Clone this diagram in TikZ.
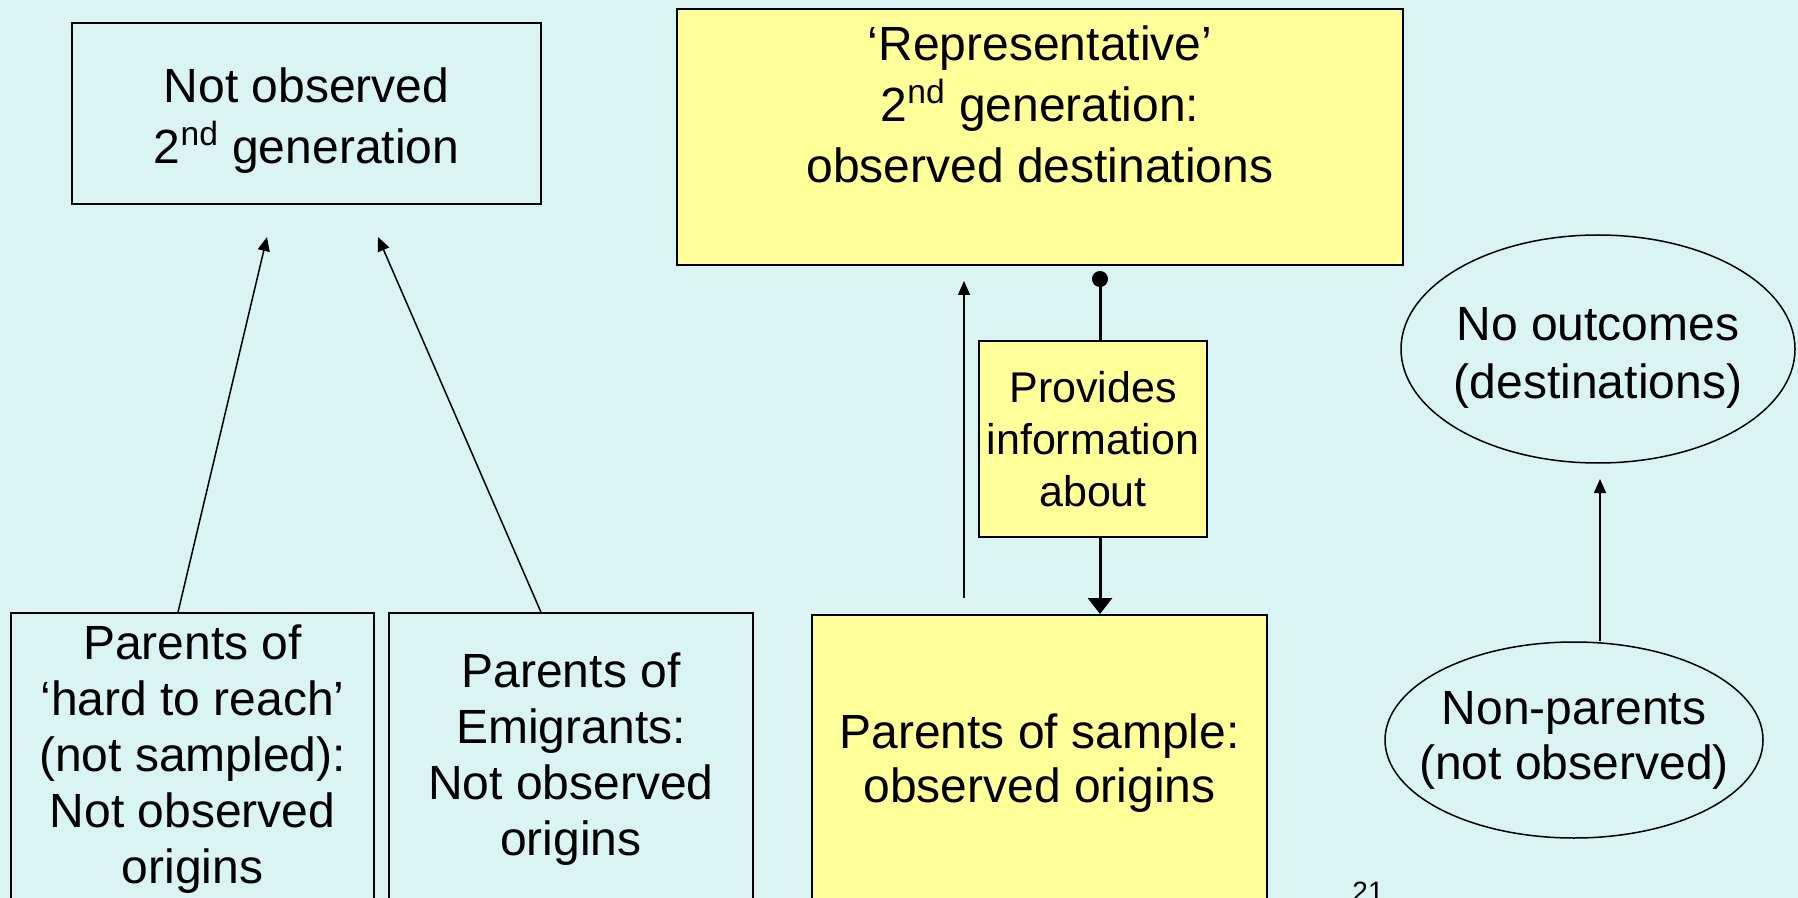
\documentclass[tikz,border=0pt]{standalone}
\usepackage{fontspec}
\setmainfont{Liberation Sans}
\usetikzlibrary{arrows.meta,shapes.geometric}
\definecolor{slbg}{RGB}{218,243,243}
\definecolor{slyellow}{RGB}{255,255,153}
\tikzstyle{thinarrow} = [line width=0.75pt,-{Triangle[length=7pt,width=6pt]}]
\tikzstyle{boldarrow} = [line width=1.5pt,-{Triangle[length=8pt,width=12pt]}]
\tikzstyle{plainbox} = [rectangle, draw=black, line width=0.75pt, align=center, inner sep=0pt]
\tikzstyle{yellowbox} = [plainbox, fill=slyellow, line width=1pt]
\tikzstyle{oval} = [ellipse, draw=black, line width=0.75pt, align=center, inner xsep=-14pt, inner ysep=-4pt]

\begin{document}
\begin{tikzpicture}[x=0.5pt, y=-0.5pt, font=\fontsize{24}{30.5}\selectfont]
    \useasboundingbox (0,0) rectangle (1798,898);
    % Slide background
    \fill[slbg] (0,0) rectangle (1798,898);
    \clip (0,0) rectangle (1798,898);

    % Upper row
    \node[plainbox, minimum width=234.5pt, minimum height=90.5pt] (notobs) at (306.5,113.5) {\rule{0pt}{24.5pt}Not observed\\2\textsuperscript{nd} generation};
    \node[yellowbox, minimum width=363pt, minimum height=128pt] (rep) at (1040,137) {};
    \node[align=center] (reptext) at (1040,104) {‘Representative’\\2\textsuperscript{nd} generation:\\observed destinations};
    \node[yellowbox, minimum width=114pt, minimum height=98pt, font=\fontsize{21.5}{26}\selectfont] (info) at (1093,439) {Provides\\information\\about};
    \node[oval, minimum width=197pt, minimum height=114pt, font=\fontsize{24}{29}\selectfont] (nooutc) at (1598,349) {\rule{0pt}{25.5pt}No outcomes\\(destinations)};

    % Lower row
    \node[plainbox, minimum width=181.5pt, minimum height=146pt, font=\fontsize{24}{28}\selectfont] (hard) at (192.5,759) {Parents of\\‘hard to reach’\\(not sampled):\\Not observed\\origins};
    \node[plainbox, minimum width=182pt, minimum height=146pt, font=\fontsize{24}{28}\selectfont] (emig) at (571,759) {Parents of\\Emigrants:\\Not observed\\origins};
    \node[yellowbox, minimum width=227.5pt, minimum height=148.5pt, font=\fontsize{24}{27}\selectfont] (sample) at (1039.5,763.5) {Parents of sample:\\observed origins};
    \node[oval, minimum width=189pt, minimum height=98pt, font=\fontsize{24}{27.5}\selectfont] (nonpar) at (1574,740) {Non-parents\\(not observed)};

    % Free ends of connectors
    \coordinate (tipa) at (267,237);
    \coordinate (tipb) at (378,237);
    \coordinate (upfoot) at (964,598);
    \coordinate (uptip) at (964,281);
    \coordinate (dot) at (1100,271);
    \coordinate (tipc) at (1600,479);

    % Connections
    \draw[thinarrow] ([xshift=-7.25pt]hard.north) -- (tipa);
    \draw[thinarrow] ([xshift=-15pt]emig.north) -- (tipb);
    \draw[thinarrow] (upfoot) -- (uptip);
    \draw[line width=1.5pt, {Circle[length=8pt]}-] (dot) -- (dot |- info.north);
    \draw[boldarrow] (dot |- info.south) -- (dot |- sample.north);
    \draw[thinarrow] ([xshift=13pt]nonpar.north) -- (tipc);

    % Slide number
    \node[font=\fontsize{14}{16}\selectfont, anchor=base] (pagenum) at (1368,901) {21};
\end{tikzpicture}
\end{document}
